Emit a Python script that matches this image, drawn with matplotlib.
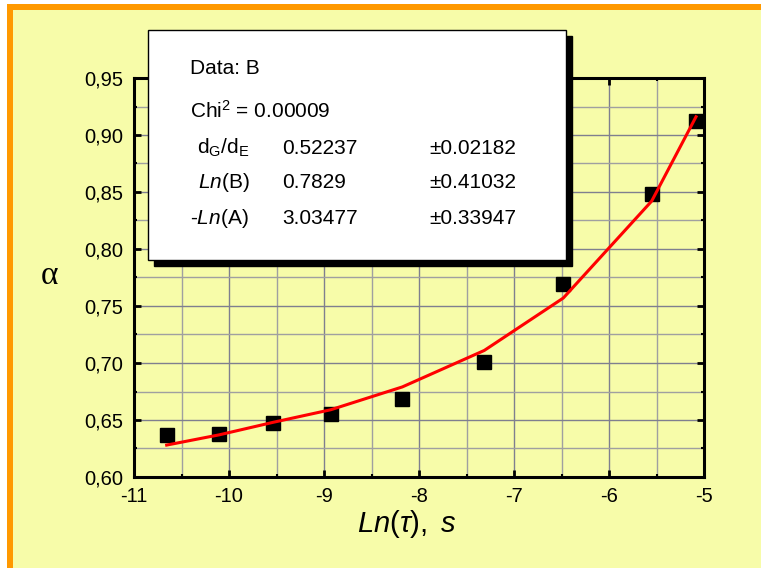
import matplotlib
matplotlib.use("Agg")
import matplotlib.pyplot as plt
from matplotlib.patches import Rectangle
from matplotlib.ticker import MultipleLocator, FuncFormatter

plt.rcParams['font.family'] = ['Liberation Sans', 'DejaVu Sans']
plt.rcParams['mathtext.fontset'] = 'custom'
plt.rcParams['mathtext.rm'] = 'Liberation Sans'
plt.rcParams['mathtext.it'] = 'Liberation Sans:italic'

# data
ln_tau = [-10.656, -10.102, -9.534, -8.929, -8.176, -7.313, -6.481, -5.551, -5.084]
alpha = [0.637, 0.638, 0.647, 0.655, 0.668, 0.701, 0.769, 0.848, 0.912]
alpha_fit = [0.628, 0.637, 0.648, 0.659, 0.679, 0.711, 0.757, 0.842, 0.916]

x_ticks = [-11, -10, -9, -8, -7, -6, -5]
y_ticks = [0.60, 0.65, 0.70, 0.75, 0.80, 0.85, 0.90, 0.95]

W, H = 761, 568
fig = plt.figure(figsize=(W / 100, H / 100), dpi=100)
fig.patch.set_facecolor('white')

def fx(x):
    return x / W

def fy(y):
    return 1 - y / H

yellow = '#F7FCA9'
orange = '#FF9900'
fig.patches.append(Rectangle((fx(7), 0), 1 - fx(7), fy(4), transform=fig.transFigure,
                             facecolor=orange, edgecolor='none', zorder=-10))
fig.patches.append(Rectangle((fx(13), 0), 1 - fx(13), fy(10), transform=fig.transFigure,
                             facecolor=yellow, edgecolor='none', zorder=-9))

ax = fig.add_axes([fx(134), fy(477), (704 - 134) / W, (477 - 78) / H])
ax.set_facecolor(yellow)
ax.set_xlim(-11, -5)
ax.set_ylim(0.60, 0.95)
ax.set_xticks(x_ticks)
ax.set_yticks(y_ticks)
ax.xaxis.set_minor_locator(MultipleLocator(0.5))
ax.yaxis.set_minor_locator(MultipleLocator(0.025))
ax.yaxis.set_major_formatter(FuncFormatter(lambda v, p: f"{v:.2f}".replace('.', ',')))
ax.xaxis.set_major_formatter(FuncFormatter(lambda v, p: f"{int(round(v))}"))
ax.grid(True, which='major', color='#7f7f8f', linewidth=1.0, zorder=0)
ax.grid(True, which='minor', color='#a0a0a0', linewidth=1.0, zorder=0)
ax.set_axisbelow(True)
ax.tick_params(which='both', direction='in', top=True, right=True, labelsize=14.5)
ax.tick_params(which='major', length=5, width=2)
ax.tick_params(which='minor', length=2.5, width=1.5)
ax.tick_params(axis='x', pad=7)
ax.tick_params(axis='y', pad=8)
for s in ax.spines.values():
    s.set_linewidth(2.2)

ax.plot(ln_tau, alpha, linestyle='none', marker='s', markersize=9.5, color='black', zorder=3,
        clip_on=False)
ax.plot(ln_tau, alpha_fit, color='#FF0000', linewidth=2.2, zorder=4, clip_on=False)

# labels
fig.text(fx(407), fy(524), r"$\mathit{Ln}\mathrm{(}\tau\mathrm{),\ }\mathit{s}$", fontsize=21,
         ha='center', va='center')
fig.text(fx(50), fy(276), "α", family=['Liberation Serif', 'DejaVu Serif'], fontsize=24,
         ha='center', va='center')

# info box
bx0, by0, bx1, by1 = 148, 30, 566, 260
off = 6
fig.patches.append(Rectangle((fx(bx0 + off), fy(by1 + off)), (bx1 - bx0) / W, (by1 - by0) / H,
                             transform=fig.transFigure, facecolor='black', edgecolor='black',
                             zorder=5))
fig.patches.append(Rectangle((fx(bx0), fy(by1)), (bx1 - bx0) / W, (by1 - by0) / H,
                             transform=fig.transFigure, facecolor='white', edgecolor='black',
                             linewidth=1.0, zorder=6))

fs = 15
fig.text(fx(190), fy(68), "Data: B", fontsize=fs, ha='left', va='center', zorder=7)
fig.text(fx(190), fy(111), r"Chi$^{2}$ = 0.00009", fontsize=fs, ha='left', va='center', zorder=7)
rows = [
    (r"d$_{\mathrm{G}}$/d$_{\mathrm{E}}$", "0.52237", "±0.02182", 148, 197),
    (r"$\mathit{Ln}$(B)", "0.7829", "±0.41032", 183, 198),
    (r"-$\mathit{Ln}$(A)", "3.03477", "±0.33947", 218, 190),
]
for name, val, err, y, x0 in rows:
    fig.text(fx(x0), fy(y), name, fontsize=fs, ha='left', va='center', zorder=7)
    fig.text(fx(282), fy(y), val, fontsize=fs, ha='left', va='center', zorder=7)
    fig.text(fx(429), fy(y), err, fontsize=fs, ha='left', va='center', zorder=7)

fig.savefig("out.png", dpi=100, facecolor=fig.get_facecolor())
